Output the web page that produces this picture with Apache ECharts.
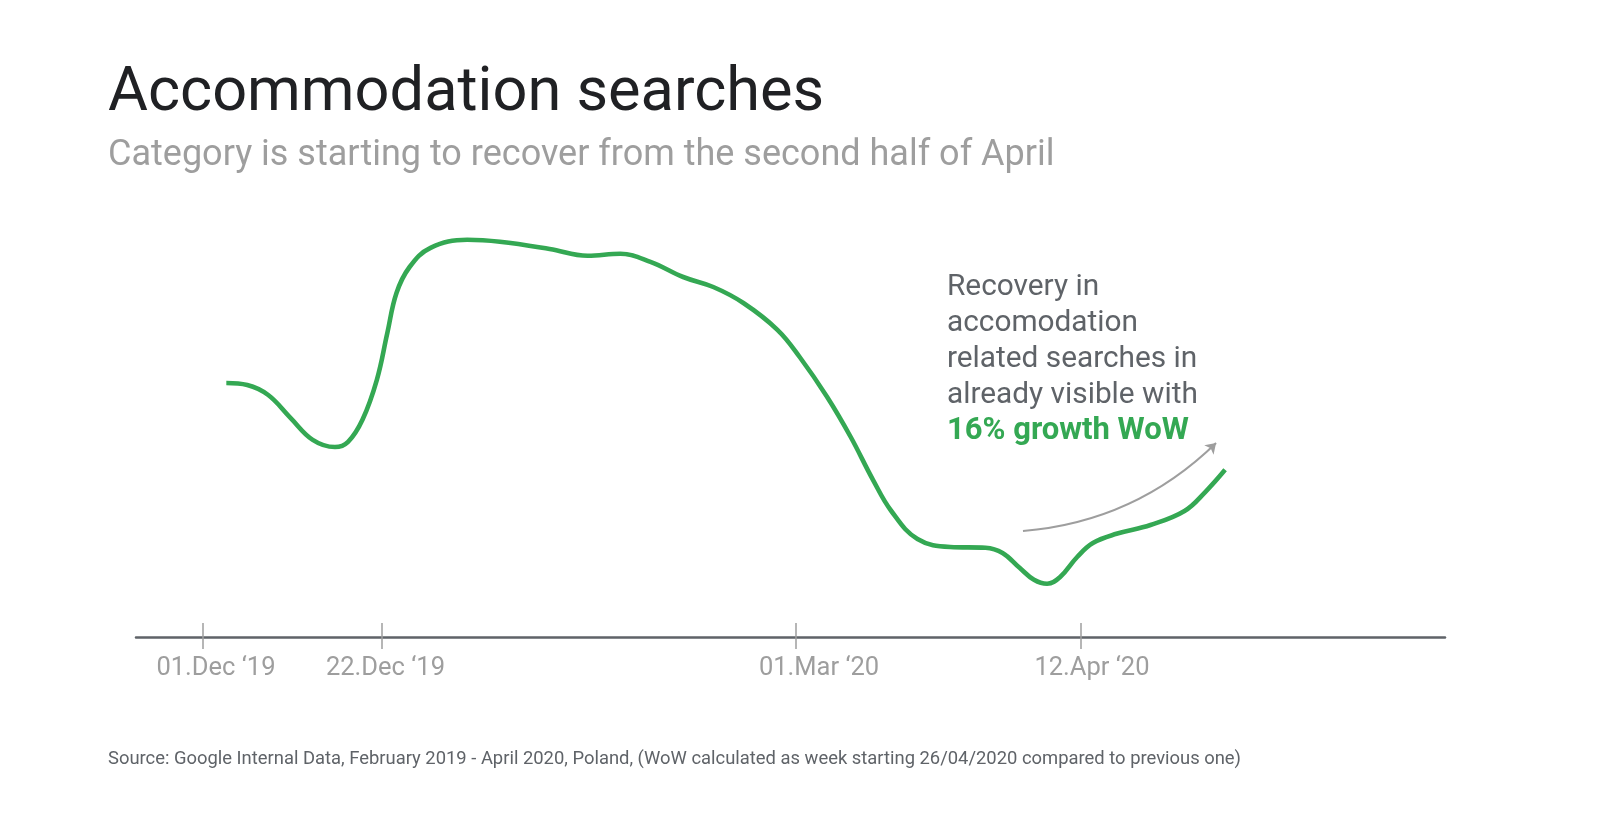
<!DOCTYPE html>
<html><head><meta charset="utf-8">
<script src="https://cdn.jsdelivr.net/npm/echarts@6/dist/echarts.min.js"></script>
<style>html,body{margin:0;padding:0;background:#fff}#c{width:1600px;height:829px}</style>
</head><body><div id="c"></div>
<script>
// x positions along the (hand-spaced) time axis, in axis units 0-100
const pointPos = [6.9, 8.5, 10.1, 11.8, 13.5, 15.2, 16.2, 17.3, 18.4, 19.2, 19.9, 20.9, 22.5, 25.3, 27.8, 31.6, 34.5, 37.0, 39.3, 41.8, 44.1, 46.4, 49.0, 50.7, 52.8, 54.6, 56.3, 57.7, 59.7, 62.2, 64.9, 66.2, 67.5, 68.6, 69.6, 70.6, 71.9, 73.1, 74.9, 77.5, 80.1, 81.7, 83.2];
// search interest index (relative)
const searchIndex = [63.5, 63.0, 60.5, 54.8, 49.3, 47.5, 48.8, 54.3, 64.3, 76.0, 86.0, 92.5, 97.3, 99.3, 98.8, 97.0, 95.3, 95.8, 93.8, 90.0, 87.5, 83.5, 76.8, 70.0, 60.0, 50.0, 39.3, 31.5, 24.5, 22.5, 22.3, 21.0, 17.3, 14.3, 13.3, 15.0, 20.0, 23.5, 25.8, 28.0, 31.5, 36.3, 41.8];
const tickPos = [5.07, 18.79, 50.40, 72.19];
const labelPos = [6.11, 19.06, 52.18, 73.03];
const tickLabels = ['01.Dec \u201819', '22.Dec \u201819', '01.Mar \u201820', '12.Apr \u201820'];
const arrowFrom = [67.76, 26.5];
const arrowTo = [82.51, 48.5];

const FONT = 'Roboto';
const GREEN = '#34a853';
const chart = echarts.init(document.getElementById('c'), null, {renderer: 'canvas'});
const lineData = pointPos.map((x, i) => [x, searchIndex[i]]);

chart.setOption({
  animation: false,
  backgroundColor: '#ffffff',
  title: [
    {text: 'Accommodation searches', left: 108, top: 64, padding: 0,
     textStyle: {fontFamily: FONT, fontSize: 61.3, fontWeight: 'normal', color: '#202124'}},
    {text: 'Category is starting to recover from the second half of April', left: 108, top: 138.2, padding: 0,
     textStyle: {fontFamily: FONT, fontSize: 36, fontWeight: 'normal', color: '#9e9e9e'}},
    {text: 'Source: Google Internal Data, February 2019 - April 2020, Poland, (WoW calculated as week starting 26/04/2020 compared to previous one)',
     left: 108, top: 750.3, padding: 0,
     textStyle: {fontFamily: FONT, fontSize: 18.4, fontWeight: 'normal', color: '#5f6368'}}
  ],
  graphic: [{
    type: 'text', left: 947, top: 273, silent: true,
    style: {
      text: '{n|Recovery in}\n{n|accomodation}\n{n|related searches in}\n{n|already visible with}\n{g|16% growth WoW}',
      fill: '#5f6368',
      rich: {
        n: {fontFamily: FONT, fontSize: 29.8, fill: '#5f6368', lineHeight: 35.7},
        g: {fontFamily: FONT, fontSize: 31, fontWeight: 'bold', fill: GREEN, lineHeight: 35.7}
      }
    }
  }],
  grid: {left: 136, right: 155, top: 237, bottom: 192, containLabel: false},
  xAxis: [{
    type: 'value', min: 0, max: 100, position: 'bottom',
    axisLine: {show: true, lineStyle: {color: '#5f6368', width: 2.5}},
    axisTick: {show: true, customValues: tickPos, length: 12, lineStyle: {color: '#9e9e9e', width: 1.5}},
    axisLabel: {show: true, customValues: labelPos, margin: 19,
      fontFamily: FONT, fontSize: 25.5, color: '#9e9e9e',
      formatter: v => { const i = labelPos.indexOf(v); return i >= 0 ? tickLabels[i] : ''; }},
    splitLine: {show: false}
  }, {
    type: 'value', min: 0, max: 100, position: 'bottom', offset: 0,
    axisLine: {show: false},
    axisTick: {show: true, inside: true, customValues: tickPos, length: 14, lineStyle: {color: '#9e9e9e', width: 1.5}},
    axisLabel: {show: false},
    splitLine: {show: false}
  }],
  yAxis: {type: 'value', min: 0, max: 100, show: false},
  series: [{
    type: 'line', xAxisIndex: 0, data: lineData, smooth: 0.4, symbol: 'none',
    lineStyle: {color: GREEN, width: 4.6}, silent: true
  }, {
    type: 'lines', coordinateSystem: 'cartesian2d', xAxisIndex: 0, yAxisIndex: 0, silent: true,
    symbol: ['none', 'arrow'], symbolSize: 10,
    lineStyle: {color: '#9e9e9e', width: 2, type: 'solid', curveness: -0.18, opacity: 1},
    data: [{coords: [arrowFrom, arrowTo]}]
  }]
});
</script>
</body></html>
